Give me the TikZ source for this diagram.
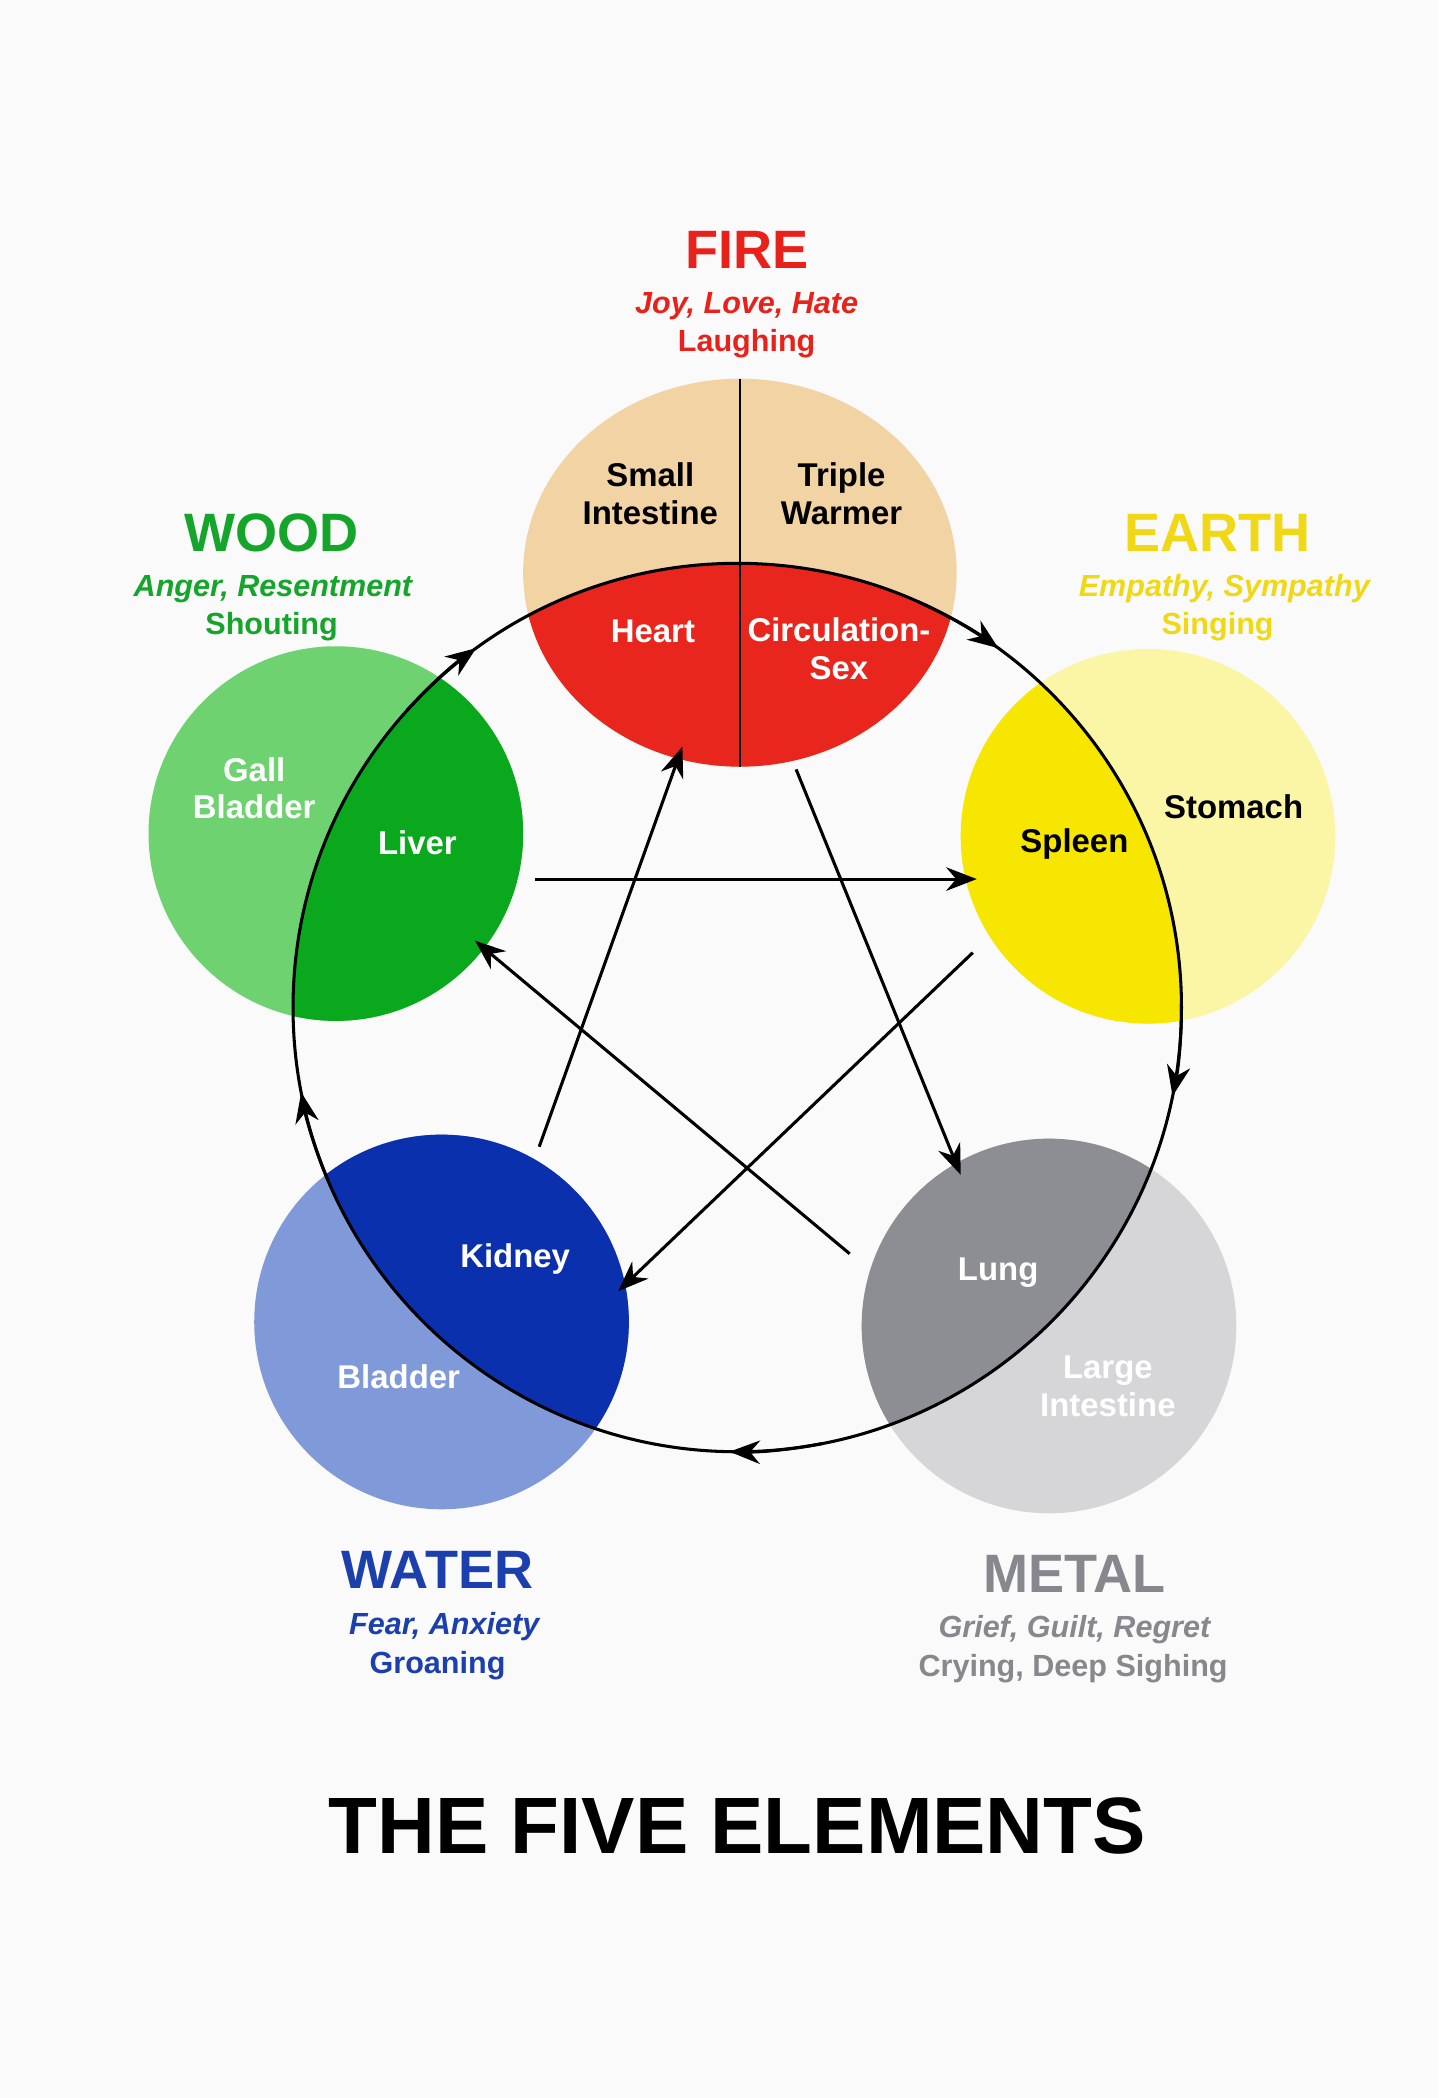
\documentclass[tikz,border=0pt]{standalone}
\usepackage{fontspec}
\setmainfont{Liberation Sans}
\usetikzlibrary{arrows.meta}
\definecolor{firelt}{HTML}{F2D3A4}\definecolor{firedk}{HTML}{E8261E}
\definecolor{woodlt}{HTML}{6FD270}\definecolor{wooddk}{HTML}{0AA81C}
\definecolor{earthlt}{HTML}{FAF6A6}\definecolor{earthdk}{HTML}{F7E600}
\definecolor{metallt}{HTML}{D6D6D9}\definecolor{metaldk}{HTML}{8D8E93}
\definecolor{waterlt}{HTML}{8099D8}\definecolor{waterdk}{HTML}{0B30AE}
\definecolor{firetx}{HTML}{E8221A}\definecolor{woodtx}{HTML}{14A52A}
\definecolor{earthtx}{HTML}{F0D816}\definecolor{watertx}{HTML}{1C3FAE}
\definecolor{metaltx}{HTML}{86888E}
\begin{document}
\begin{tikzpicture}[x=0.02cm,y=-0.02cm,
  organ/.style={font=\bfseries\fontsize{14}{16}\selectfont,align=center},
  elem/.style={font=\bfseries\fontsize{23}{26}\selectfont},
  emo/.style={font=\bfseries\itshape\fontsize{13}{15}\selectfont},
  snd/.style={font=\bfseries\fontsize{13}{15}\selectfont},
  arr/.style={line width=1.3pt,-{Stealth[length=13pt,width=10pt]}}]
\useasboundingbox (0,0) rectangle (1075,1568);
\fill[white!98!black] (0,0) rectangle (1075,1568);
\def\bigc{(551,753) circle [radius=332]}
% element circles
\fill[firelt] (553,428) ellipse [x radius=162,y radius=145];
\fill[woodlt] (251,623) circle [radius=140];
\fill[earthlt] (858,625) circle [radius=140];
\fill[metallt] (784,991) circle [radius=140];
\fill[waterlt] (330,988) circle [radius=140];
\begin{scope}
\clip \bigc;
\fill[firedk] (553,428) ellipse [x radius=162,y radius=145];
\fill[wooddk] (251,623) circle [radius=140];
\fill[earthdk] (858,625) circle [radius=140];
\fill[metaldk] (784,991) circle [radius=140];
\fill[waterdk] (330,988) circle [radius=140];
\end{scope}
\draw[line width=1pt] (553,283) -- (553,573);
% cycle
\draw[line width=1.3pt] \bigc;
\foreach \a in {126,54,-11.5,-91,191}
  \draw[arr] (551,753) ++(-\a-12:332) arc[start angle=-\a-12,end angle=-\a,radius=332];
% organ labels
\node[organ] (si) at (486,369) {Small\\Intestine};
\node[organ] (tw) at (629,369) {Triple\\Warmer};
\node[organ,white] (heart) at (488,472) {Heart};
\node[organ,white] (cs) at (627,485) {Circulation-\\Sex};
\node[organ,white] (gb) at (190,589) {Gall\\Bladder};
\node[organ,white] (liver) at (312,630) {Liver};
\node[organ] (spleen) at (803,631) {Spleen};
\node[organ] (stomach) at (922,603) {Stomach};
\node[organ,white] (lung) at (746,951) {Lung};
\node[organ,white] (li) at (828,1036) {Large\\Intestine};
\node[organ,white] (kidney) at (385,941) {Kidney};
\node[organ,white] (bladder) at (298,1029) {Bladder};
% pentagram
\coordinate (p1) at (400,657); \coordinate (p2) at (730,657);
\coordinate (p3) at (595,575); \coordinate (p4) at (718,878);
\coordinate (p5) at (635,937); \coordinate (p6) at (355,703);
\coordinate (p7) at (727,712); \coordinate (p8) at (462,965);
\coordinate (p9) at (403,857); \coordinate (p10) at (510,558);
\draw[arr] (p1) -- (p2);
\draw[arr] (p3) -- (p4);
\draw[arr] (p5) -- (p6);
\draw[arr] (p7) -- (p8);
\draw[arr] (p9) -- (p10);
% element labels
\node[elem,firetx] (fire) at (558,187) {FIRE};
\node[emo,firetx] (fe) at (558,229) {Joy, Love, Hate};
\node[snd,firetx] (fs) at (558,257) {Laughing};
\node[elem,woodtx] (wood) at (203,398) {WOOD};
\node[emo,woodtx] (we) at (204,440) {Anger, Resentment};
\node[snd,woodtx] (ws) at (203,468) {Shouting};
\node[elem,earthtx] (earth) at (910,398) {EARTH};
\node[emo,earthtx] (ee) at (915,440) {Empathy, Sympathy};
\node[snd,earthtx] (es) at (910,468) {Singing};
\node[elem,watertx] (water) at (327,1173) {WATER};
\node[emo,watertx] (wae) at (332,1216) {Fear, Anxiety};
\node[snd,watertx] (was) at (327,1245) {Groaning};
\node[elem,metaltx] (metal) at (803,1176) {METAL};
\node[emo,metaltx] (me) at (803,1218) {Grief, Guilt, Regret};
\node[snd,metaltx] (ms) at (802,1247) {Crying, Deep Sighing};
\node[font=\bfseries\fontsize{34}{38}\selectfont] (title) at (551,1365) {THE FIVE ELEMENTS};
\end{tikzpicture}
\end{document}
